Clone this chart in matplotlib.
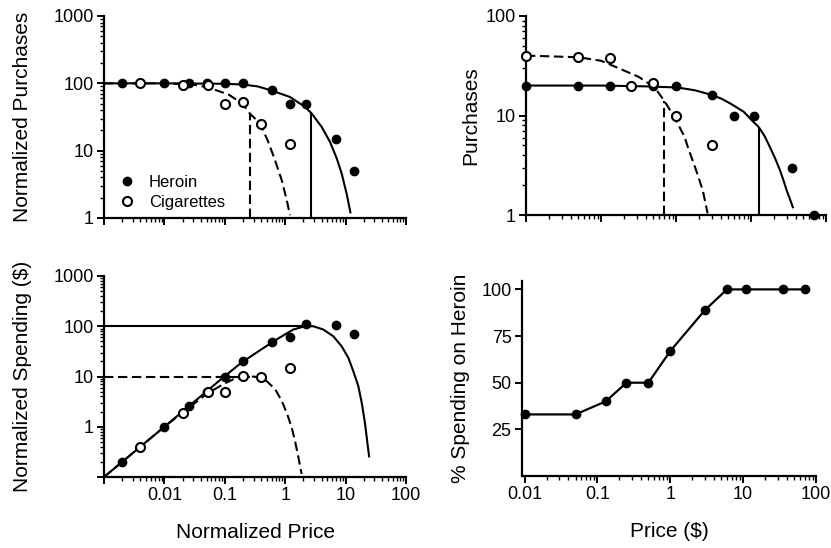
import numpy as np
import matplotlib
matplotlib.use("Agg")
import matplotlib.pyplot as plt
from matplotlib.lines import Line2D
from matplotlib.ticker import LogLocator, NullFormatter

plt.rcParams['font.family'] = ['Liberation Sans', 'DejaVu Sans']

# --- normalized demand (top left) and spending (bottom left) ---
heroin_norm_price = [0.002, 0.01, 0.026, 0.05, 0.1, 0.2, 0.6, 1.2, 2.2, 7, 14]
heroin_norm_purchases = [100, 100, 100, 100, 100, 100, 80, 50, 50, 15, 5]
heroin_norm_spending = [0.2, 1, 2.6, 5, 10, 20, 48, 60, 110, 105, 70]

cig_norm_price = [0.004, 0.02, 0.052, 0.1, 0.2, 0.4, 1.2]
cig_norm_purchases = [100, 96, 95, 49, 52, 25, 12.5]
cig_norm_spending = [0.4, 1.9, 4.9, 4.9, 10.4, 10, 15]

# fitted demand curves, normalized
heroin_fit_price = [0.001, 0.01, 0.1, 0.2, 0.35, 0.6, 1.2, 2.13, 2.75, 4.02, 5.52, 7.12, 8.6, 10.4, 12.1]
heroin_fit_purchases = [100, 100, 98.5, 96, 90, 78, 62.7, 44.6, 35.6, 22.5, 13.5, 7.7, 4.6, 2.3, 1.17]
cig_fit_price = [0.001, 0.01, 0.03, 0.055, 0.116, 0.195, 0.26, 0.383, 0.525, 0.678, 0.875, 1.06, 1.2]
cig_fit_purchases = [100, 100, 96, 86, 68, 50, 35.6, 25.3, 13.5, 7.2, 3.66, 1.85, 1.1]

heroin_fit_spend_price = [0.001, 0.01, 0.096, 0.19, 0.56, 0.82, 1.36, 2.0, 2.5, 2.92, 4.28, 6.27,
                          8.6, 11.1, 13.4, 16.2, 18.5, 20.9, 22.9, 24.6]
heroin_fit_spending = [0.1, 1.0, 9.8, 19, 45, 60, 86, 98, 100, 100, 86, 63,
                       40, 23.6, 12.8, 6.5, 3.0, 1.2, 0.49, 0.245]
cig_fit_spend_price = [0.001, 0.01, 0.05, 0.09, 0.138, 0.2, 0.26, 0.316, 0.494, 0.68, 0.875,
                       1.08, 1.28, 1.45, 1.65, 1.87]
cig_fit_spending = [0.1, 1.0, 4.5, 6.8, 8.8, 9.9, 10, 9.9, 8.1, 5.6, 3.3,
                    1.78, 0.97, 0.53, 0.25, 0.115]

heroin_pmax_norm, heroin_qmax_norm, heroin_omax = 2.67, 37, 100
cig_pmax_norm, cig_qmax_norm, cig_omax = 0.26, 35, 10

# --- raw demand (top right) ---
heroin_price = [0.01, 0.05, 0.13, 0.25, 0.5, 1, 3, 6, 11, 35, 70]
heroin_purchases = [20, 20, 20, 20, 20, 20, 16, 10, 10, 3, 1]
cig_price = [0.01, 0.05, 0.13, 0.25, 0.5, 1, 3]
cig_purchases = [40, 38.5, 38, 19.7, 21, 10, 5]

heroin_fit_raw_price = [0.01, 0.1, 0.43, 1.06, 1.8, 2.92, 4.0, 5.3, 8.0, 10.8, 12.6, 15.2,
                        17.9, 21, 24.3, 27, 29.8, 33, 36.5]
heroin_fit_raw_purchases = [20, 20, 19.6, 19.1, 17.9, 16.2, 14.8, 13.2, 10.9, 8.6, 7.7, 6.2,
                            4.8, 3.7, 2.83, 2.25, 1.78, 1.45, 1.17]
cig_fit_raw_price = [0.01, 0.05, 0.1, 0.17, 0.32, 0.43, 0.55, 0.7, 0.96, 1.3, 1.44, 1.85, 2.27, 2.64]
cig_fit_raw_purchases = [40, 38.5, 35.5, 30, 24.4, 21, 18, 14, 9.5, 6.1, 4.8, 2.83, 1.78, 1.04]

heroin_pmax_raw, heroin_qmax_raw = 12.6, 7.7
cig_pmax_raw, cig_qmax_raw = 0.7, 14

# --- share of spending (bottom right) ---
share_price = [0.01, 0.05, 0.13, 0.25, 0.5, 1, 3, 6, 11, 35, 70]
share_heroin = [33, 33, 40, 50, 50, 67, 89, 100, 100, 100, 100]

W, H = 831, 548
fig = plt.figure(figsize=(W / 100, H / 100), dpi=100)


def px_axes(x0, x1, ytop, ybot):
    return fig.add_axes([x0 / W, 1 - ybot / H, (x1 - x0) / W, (ybot - ytop) / H])


def style(ax):
    for s in ['top', 'right']:
        ax.spines[s].set_visible(False)
    for s in ['left', 'bottom']:
        ax.spines[s].set_linewidth(1.6)
    ax.tick_params(which='major', direction='out', length=5, width=1.4, labelsize=13, pad=2.5)
    ax.tick_params(which='minor', direction='out', length=3, width=1.0)


def log_axis(axis, ticks, labels):
    axis.set_ticks(ticks)
    axis.set_ticklabels(labels)
    axis.set_minor_locator(LogLocator(base=10, subs=np.arange(2, 10), numticks=100))
    axis.set_minor_formatter(NullFormatter())


solid = dict(color='black', lw=1.5, solid_capstyle='butt', solid_joinstyle='round')
dashed = dict(color='black', lw=1.5, ls=(0, (4.5, 2.2)))
filled = dict(ls='none', marker='o', ms=6, mfc='black', mec='black', clip_on=False, zorder=4)
hollow = dict(ls='none', marker='o', ms=6.5, mfc='white', mec='black', mew=1.5, clip_on=False, zorder=5)

# top left: normalized purchases
ax1 = px_axes(104, 406, 16, 218)
ax1.set_xscale('log')
ax1.set_yscale('log')
ax1.set_xlim(0.001, 100)
ax1.set_ylim(1, 1000)
ax1.plot(heroin_fit_price, heroin_fit_purchases, **solid)
ax1.plot(cig_fit_price, cig_fit_purchases, **dashed)
ax1.plot([heroin_pmax_norm, heroin_pmax_norm], [1, heroin_qmax_norm], **solid)
ax1.plot([cig_pmax_norm, cig_pmax_norm], [1, cig_qmax_norm], **dashed)
ax1.plot(heroin_norm_price, heroin_norm_purchases, **filled)
ax1.plot(cig_norm_price, cig_norm_purchases, **hollow)
style(ax1)
log_axis(ax1.xaxis, [0.001, 0.01, 0.1, 1, 10, 100], [''] * 6)
log_axis(ax1.yaxis, [1, 10, 100, 1000], ['1', '10', '100', '1000'])
ax1.set_ylabel('Normalized Purchases', fontsize=15)
ax1.yaxis.set_label_coords(-0.24, 0.5)
handles = [Line2D([], [], **{k: v for k, v in filled.items() if k != 'clip_on'}),
           Line2D([], [], **{k: v for k, v in hollow.items() if k != 'clip_on'})]
ax1.legend(handles, ['Heroin', 'Cigarettes'], loc='lower left', bbox_to_anchor=(0.0, -0.035),
           frameon=False, fontsize=12, handlelength=1.0, handletextpad=0.8, labelspacing=0.3)

# top right: purchases
ax2 = px_axes(526, 826, 16, 215)
ax2.set_xscale('log')
ax2.set_yscale('log')
ax2.set_xlim(0.01, 100)
ax2.set_ylim(1, 100)
ax2.plot(heroin_fit_raw_price, heroin_fit_raw_purchases, **solid)
ax2.plot(cig_fit_raw_price, cig_fit_raw_purchases, **dashed)
ax2.plot([heroin_pmax_raw, heroin_pmax_raw], [1, heroin_qmax_raw], **solid)
ax2.plot([cig_pmax_raw, cig_pmax_raw], [1, cig_qmax_raw], **dashed)
ax2.plot(heroin_price, heroin_purchases, **filled)
ax2.plot(cig_price, cig_purchases, **hollow)
style(ax2)
log_axis(ax2.xaxis, [0.01, 0.1, 1, 10, 100], [''] * 5)
log_axis(ax2.yaxis, [1, 10, 100], ['1', '10', '100'])
ax2.set_ylabel('Purchases', fontsize=15)
ax2.yaxis.set_label_coords(-0.153, 0.5)

# bottom left: normalized spending
ax3 = px_axes(104, 406, 276, 477)
ax3.set_xscale('log')
ax3.set_yscale('log')
ax3.set_xlim(0.001, 100)
ax3.set_ylim(0.1, 1000)
ax3.plot(heroin_fit_spend_price, heroin_fit_spending, **solid)
ax3.plot(cig_fit_spend_price, cig_fit_spending, **dashed)
ax3.plot([0.001, heroin_pmax_norm], [heroin_omax, heroin_omax], **solid)
ax3.plot([0.001, cig_pmax_norm], [cig_omax, cig_omax], **dashed)
ax3.plot(heroin_norm_price, heroin_norm_spending, **filled)
ax3.plot(cig_norm_price, cig_norm_spending, **hollow)
style(ax3)
log_axis(ax3.xaxis, [0.001, 0.01, 0.1, 1, 10, 100], ['', '0.01', '0.1', '1', '10', '100'])
log_axis(ax3.yaxis, [0.1, 1, 10, 100, 1000], ['', '1', '10', '100', '1000'])
ax3.set_ylabel('Normalized Spending ($)', fontsize=15)
ax3.yaxis.set_label_coords(-0.24, 0.5)
ax3.set_xlabel('Normalized Price', fontsize=15)
ax3.xaxis.set_label_coords(0.5, -0.23)

# bottom right: share of spending on heroin
ax4 = px_axes(522, 816, 281, 476)
ax4.set_xscale('log')
ax4.set_xlim(0.0092, 100)
ax4.set_ylim(0, 104.5)
ax4.plot(share_price, share_heroin, color='black', lw=1.6, marker='o', ms=6, clip_on=False, zorder=4)
style(ax4)
log_axis(ax4.xaxis, [0.01, 0.1, 1, 10, 100], ['0.01', '0.1', '1', '10', '100'])
ax4.set_yticks([25, 50, 75, 100])
ax4.set_ylabel('% Spending on Heroin', fontsize=15)
ax4.yaxis.set_label_coords(-0.177, 0.5)
ax4.set_xlabel('Price ($)', fontsize=15)
ax4.xaxis.set_label_coords(0.5, -0.234)

fig.savefig('out.png', dpi=100)
